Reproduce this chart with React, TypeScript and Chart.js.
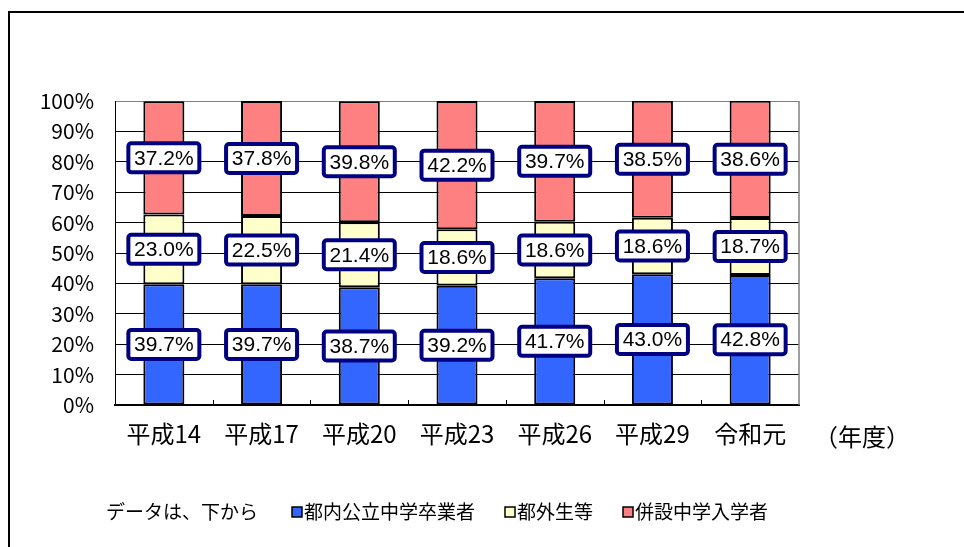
import React, { useEffect, useRef } from "react";
import { Chart, registerables } from "chart.js";

Chart.register(...registerables);

const categories = ["平成14", "平成17", "平成20", "平成23", "平成26", "平成29", "令和元"];
const tokunaiKoritsu = [39.7, 39.7, 38.7, 39.2, 41.7, 43.0, 42.8];
const togaiSei = [23.0, 22.5, 21.4, 18.6, 18.6, 18.6, 18.7];
const heisetsu = [37.2, 37.8, 39.8, 42.2, 39.7, 38.5, 38.6];
const seriesLabels = ["都内公立中学卒業者", "都外生等", "併設中学入学者"];
const seriesColors = ["#3366FF", "#FFFFCC", "#FF8080"];
const legendPrefix = "データは、下から";
const unitLabel = "（年度）";

const JP = "'Noto Sans CJK JP', 'Noto Sans', sans-serif";
const LAT = "'Liberation Sans', Arial, sans-serif";

const decorPlugin = {
  id: "decor",
  beforeDraw(chart: any) {
    const { ctx, width, height } = chart;
    ctx.save();
    ctx.fillStyle = "#fff";
    ctx.fillRect(0, 0, width, height);
    ctx.strokeStyle = "#000";
    ctx.lineWidth = 2;
    ctx.beginPath();
    ctx.moveTo(9, height + 2);
    ctx.lineTo(9, 12);
    ctx.lineTo(width + 2, 12);
    ctx.stroke();
    ctx.restore();
  },
  beforeDatasetsDraw(chart: any) {
    const { ctx, chartArea } = chart;
    const xs = chart.scales.x;
    ctx.save();
    ctx.strokeStyle = "#808080";
    ctx.lineWidth = 1.5;
    ctx.beginPath();
    ctx.moveTo(chartArea.right, chartArea.top);
    ctx.lineTo(chartArea.right, chartArea.bottom);
    ctx.stroke();
    ctx.strokeStyle = "#000";
    ctx.lineWidth = 1;
    for (let i = 1; i < categories.length; i++) {
      const bx = Math.round((xs.getPixelForTick(i - 1) + xs.getPixelForTick(i)) / 2) + 0.5;
      ctx.beginPath();
      ctx.moveTo(bx, chartArea.bottom);
      ctx.lineTo(bx, chartArea.bottom - 5);
      ctx.stroke();
    }
    ctx.restore();
  },
  afterDatasetsDraw(chart: any) {
    const { ctx } = chart;
    ctx.save();
    ctx.font = `21px ${LAT}`;
    ctx.textAlign = "center";
    ctx.textBaseline = "middle";
    chart.data.datasets.forEach((ds: any, di: number) => {
      const meta = chart.getDatasetMeta(di);
      meta.data.forEach((el: any, i: number) => {
        const cx = el.x;
        const cy = (el.y + el.base) / 2;
        const txt = Number(ds.data[i]).toFixed(1) + "%";
        const w = 71;
        const h = 29;
        const x0 = cx - w / 2;
        const y0 = cy - h / 2;
        ctx.beginPath();
        if (ctx.roundRect) ctx.roundRect(x0, y0, w, h, 3);
        else ctx.rect(x0, y0, w, h);
        ctx.fillStyle = "#fff";
        ctx.fill();
        ctx.lineWidth = 4;
        ctx.strokeStyle = "#000080";
        ctx.stroke();
        ctx.fillStyle = "#000";
        ctx.fillText(txt, cx, cy + 1);
      });
    });
    ctx.restore();
  },
  afterDraw(chart: any) {
    const { ctx, chartArea } = chart;
    ctx.save();
    ctx.fillStyle = "#000";
    ctx.textBaseline = "middle";
    ctx.textAlign = "left";
    ctx.font = `24px ${JP}`;
    ctx.fillText(unitLabel, chartArea.right + 15, 437);
    ctx.font = `19px ${JP}`;
    const ly = 512;
    let x = 106;
    ctx.fillText(legendPrefix, x, ly);
    x += ctx.measureText(legendPrefix).width + 34;
    chart.data.datasets.forEach((ds: any) => {
      ctx.fillStyle = ds.backgroundColor;
      ctx.fillRect(x, ly - 5, 10, 10);
      ctx.strokeStyle = "#000";
      ctx.lineWidth = 1.5;
      ctx.strokeRect(x, ly - 5, 10, 10);
      x += 12;
      ctx.fillStyle = "#000";
      ctx.fillText(ds.label, x, ly);
      x += ctx.measureText(ds.label).width + 30;
    });
    ctx.restore();
  },
};

export default function App() {
  const ref = useRef<HTMLCanvasElement>(null);
  useEffect(() => {
    if (!ref.current) return;
    const values = [tokunaiKoritsu, togaiSei, heisetsu];
    const chart = new Chart(ref.current, {
      type: "bar",
      data: {
        labels: categories,
        datasets: values.map((d, i) => ({
          label: seriesLabels[i],
          data: d,
          backgroundColor: seriesColors[i],
          borderColor: "#000",
          borderWidth: 2,
          borderSkipped: false,
          categoryPercentage: 1,
          barPercentage: 0.42,
        })),
      },
      options: {
        animation: false,
        responsive: false,
        devicePixelRatio: 1,
        layout: { padding: { left: 0, top: 101, right: 165, bottom: 0 } },
        plugins: {
          legend: { display: false },
          tooltip: { enabled: false },
          title: { display: false },
        },
        scales: {
          x: {
            stacked: true,
            grid: { display: true, drawOnChartArea: false, drawTicks: false },
            border: { display: true, color: "#000", width: 2 },
            ticks: { color: "#000", font: { family: JP, size: 24 }, padding: 14, maxRotation: 0 },
            afterFit: (s: any) => {
              s.height = 142;
            },
          },
          y: {
            stacked: true,
            min: 0,
            max: 100,
            grid: {
              drawTicks: false,
              color: (c: any) => (c.tick && c.tick.value === 100 ? "#808080" : "#000"),
              lineWidth: 1,
            },
            border: { display: true, color: "#000", width: 1 },
            ticks: {
              stepSize: 10,
              color: "#000",
              font: { family: JP, size: 21 },
              padding: 21,
              callback: (v: any) => v + "%",
            },
            afterFit: (s: any) => {
              s.width = 115;
            },
          },
        },
      },
      plugins: [decorPlugin],
    });
    return () => chart.destroy();
  }, []);
  return (
    <div style={{ position: "absolute", left: 0, top: 0, width: 964, height: 547 }}>
      <canvas ref={ref} width={964} height={547} style={{ display: "block" }} />
    </div>
  );
}
